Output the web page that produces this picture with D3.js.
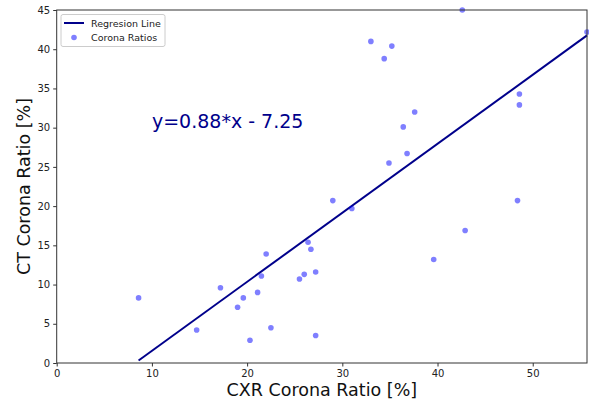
<!DOCTYPE html>
<html>
<head>
<meta charset="utf-8">
<script src="https://cdn.jsdelivr.net/npm/d3@7/dist/d3.min.js"></script>
<style>
html,body{margin:0;padding:0;background:#fff;}
svg{display:block;font-family:"DejaVu Sans",sans-serif;}
</style>
</head>
<body>
<svg id="chart" width="589" height="400"></svg>
<script>
const cxrRatio = [8.6,14.7,17.2,19.0,19.6,20.3,21.1,21.5,22.0,22.5,25.5,26.0,26.4,26.7,27.2,27.2,29.0,31.0,33.0,34.4,34.9,35.2,36.4,36.8,37.6,39.6,42.6,42.9,48.4,48.6,48.6,55.7];
const ctRatio  = [8.3,4.2,9.6,7.1,8.3,2.9,9.0,11.1,13.9,4.5,10.7,11.3,15.4,14.5,11.6,3.5,20.7,19.7,41.0,38.8,25.5,40.4,30.1,26.7,32.0,13.2,45.0,16.9,20.7,32.9,34.3,42.2];
const slope = 0.88, intercept = -7.25;
const xTicks = [0,10,20,30,40,50];
const yTicks = [0,5,10,15,20,25,30,35,40,45];
const legendLabels = ["Regresion Line","Corona Ratios"];
const equationText = "y=0.88*x - 7.25";

const svg = d3.select("#chart");
const m = {l:56.7, r:2, t:10, b:37};
const W = 589, H = 400;
const x = d3.scaleLinear().domain([0,55.7]).range([m.l, W - m.r]);
const y = d3.scaleLinear().domain([0,45]).range([H - m.b, m.t]);

// regression line
const x0 = d3.min(cxrRatio), x1 = d3.max(cxrRatio);
svg.append("line")
  .attr("x1", x(x0)).attr("y1", y(slope*x0+intercept))
  .attr("x2", x(x1)).attr("y2", y(slope*x1+intercept))
  .attr("stroke", "#00008B").attr("stroke-width", 2);

// points
svg.append("g").selectAll("circle").data(cxrRatio).join("circle")
  .attr("cx", (d)=>x(d)).attr("cy", (d,i)=>y(ctRatio[i]))
  .attr("r", 2.8).attr("fill", "blue").attr("fill-opacity", 0.5);

// spines
const frame = svg.append("rect")
  .attr("x", m.l).attr("y", m.t)
  .attr("width", W - m.r - m.l).attr("height", H - m.b - m.t)
  .attr("fill","none").attr("stroke","#333").attr("stroke-width",1);

// axes
const gx = svg.append("g").attr("transform", `translate(0,${H-m.b})`)
  .call(d3.axisBottom(x).tickValues(xTicks).tickSize(3.5).tickPadding(3));
const gy = svg.append("g").attr("transform", `translate(${m.l},0)`)
  .call(d3.axisLeft(y).tickValues(yTicks).tickSize(3.5).tickPadding(3));
[gx,gy].forEach(g=>{
  g.select(".domain").remove();
  g.selectAll("line").attr("stroke","#333");
  g.selectAll("text").attr("fill","#222").style("font-size","10px").style("font-family","DejaVu Sans");
});

// labels
svg.append("text").attr("x", (m.l + W - m.r)/2).attr("y", 396)
  .attr("text-anchor","middle").style("font-size","17.5px").attr("fill","#111")
  .text("CXR Corona Ratio [%]");
svg.append("text").attr("transform", `translate(30,${(m.t + H - m.b)/2}) rotate(-90)`)
  .attr("text-anchor","middle").style("font-size","17.5px").attr("fill","#111")
  .text("CT Corona Ratio [%]");

// equation
svg.append("text").attr("x", x(10.0)).attr("y", 128)
  .style("font-size","19px").attr("fill","#00008B")
  .text(equationText);

// legend
const lg = svg.append("g");
lg.append("rect").attr("x", 61).attr("y", 14.5).attr("width", 104).attr("height", 32)
  .attr("rx", 2).attr("fill","#fff").attr("fill-opacity",0.8).attr("stroke","#ccc").attr("stroke-width",1);
lg.append("line").attr("x1",64).attr("x2",84).attr("y1",23).attr("y2",23)
  .attr("stroke","#00008B").attr("stroke-width",2);
lg.append("circle").attr("cx",74).attr("cy",37.5).attr("r",2.8).attr("fill","blue").attr("fill-opacity",0.5);
lg.selectAll("text.lbl").data(legendLabels).join("text").attr("class","lbl")
  .attr("x", 91).attr("y", (d,i)=> 26.5 + i*14)
  .style("font-size","9.5px").attr("fill","#222").text(d=>d);
</script>
</body>
</html>
